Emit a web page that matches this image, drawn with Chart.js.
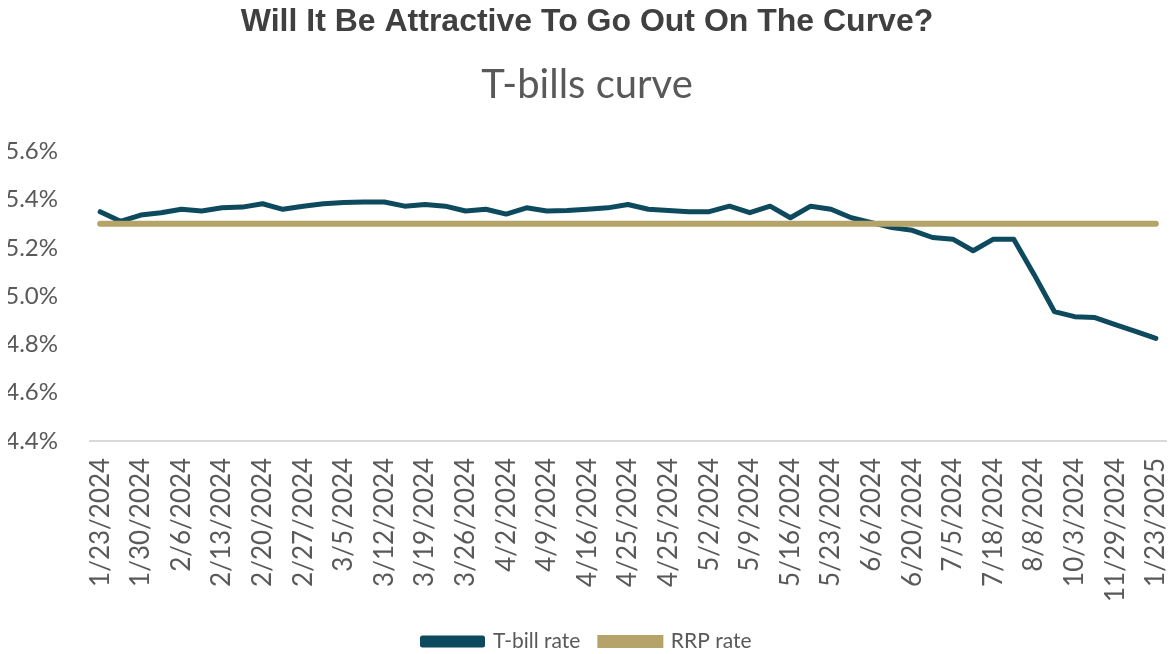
<!DOCTYPE html>
<html>
<head>
<meta charset="utf-8">
<title>T-bills curve</title>
<script src="https://cdn.jsdelivr.net/npm/chart.js@4.4.1/dist/chart.umd.min.js"></script>
<style>
  html, body { margin: 0; padding: 0; background: #ffffff; }
  #wrap { width: 1171px; height: 654px; position: relative; }
</style>
</head>
<body>
<div id="wrap"><canvas id="chartCurve"></canvas></div>
<script>
// tick labels shown on the axis (every other point)
const tickLabels = [
  '1/23/2024', '1/30/2024', '2/6/2024', '2/13/2024', '2/20/2024', '2/27/2024',
  '3/5/2024', '3/12/2024', '3/19/2024', '3/26/2024', '4/2/2024', '4/9/2024',
  '4/16/2024', '4/25/2024', '4/25/2024', '5/2/2024', '5/9/2024', '5/16/2024',
  '5/23/2024', '6/6/2024', '6/20/2024', '7/5/2024', '7/18/2024', '8/8/2024',
  '10/3/2024', '11/29/2024', '1/23/2025'
];

// T-bill rate, %
const tbillRate = [
  5.350, 5.310, 5.336, 5.346, 5.360, 5.353, 5.366, 5.369, 5.383, 5.360,
  5.373, 5.383, 5.388, 5.390, 5.390, 5.373, 5.380, 5.373, 5.353, 5.360,
  5.340, 5.366, 5.353, 5.355, 5.360, 5.366, 5.380, 5.360, 5.355, 5.350,
  5.350, 5.373, 5.346, 5.373, 5.325, 5.373, 5.360, 5.325, 5.305, 5.284,
  5.273, 5.243, 5.236, 5.188, 5.236, 5.236, 5.090, 4.936, 4.915, 4.911,
  4.882, 4.854, 4.825
];

// RRP rate, %
const rrpRate = [
  5.30, 5.30, 5.30, 5.30, 5.30, 5.30, 5.30, 5.30, 5.30, 5.30,
  5.30, 5.30, 5.30, 5.30, 5.30, 5.30, 5.30, 5.30, 5.30, 5.30,
  5.30, 5.30, 5.30, 5.30, 5.30, 5.30, 5.30, 5.30, 5.30, 5.30,
  5.30, 5.30, 5.30, 5.30, 5.30, 5.30, 5.30, 5.30, 5.30, 5.30,
  5.30, 5.30, 5.30, 5.30, 5.30, 5.30, 5.30, 5.30, 5.30, 5.30,
  5.30, 5.30, 5.30
];

const yTicks = { min: 4.4, max: 5.6, step: 0.2 };

// one category per point, only every second one labelled
const categories = [];
for (let i = 0; i < tbillRate.length; i++) {
  categories.push(i % 2 === 0 ? tickLabels[i / 2] : '');
}

const textGrey = '#595959';
const tealColor = '#0d4a5e';
const goldColor = '#b5a36a';

let chartCurve;
function drawCurve(){
  var ctx = document.getElementById('chartCurve').getContext('2d');
  if (chartCurve) {
    chartCurve.destroy();
  }
  chartCurve = new Chart(ctx, {
    type: 'line',
    data: {
      labels: categories,
      datasets: [
        {
          label: 'T-bill rate',
          data: tbillRate,
          borderColor: tealColor,
          backgroundColor: tealColor,
          borderWidth: 5,
          pointRadius: 0,
          tension: 0,
          borderCapStyle: 'round',
          borderJoinStyle: 'round',
          order: 1
        },
        {
          label: 'RRP rate',
          data: rrpRate,
          borderColor: goldColor,
          backgroundColor: goldColor,
          borderWidth: 6,
          pointRadius: 0,
          tension: 0,
          borderCapStyle: 'round',
          order: 0
        }
      ]
    },
    options: {
      responsive: true,
      maintainAspectRatio: false,
      animation: false,
      devicePixelRatio: 1,
      layout: { padding: { left: 8, right: 5, top: 0, bottom: -8 } },
      plugins: {
        title: {
          display: true,
          text: 'Will It Be Attractive To Go Out On The Curve?',
          color: '#404040',
          font: { family: 'Liberation Sans', size: 32, weight: 'bold' },
          padding: { top: 3, bottom: 20 }
        },
        subtitle: {
          display: true,
          text: 'T-bills curve',
          color: textGrey,
          font: { family: 'Lato', size: 40, weight: 'normal' },
          padding: { top: 0, bottom: 42 }
        },
        legend: {
          position: 'bottom',
          labels: {
            color: textGrey,
            font: { family: 'Lato', size: 21 },
            boxWidth: 60,
            boxHeight: 7,
            padding: 20,
            sort: function(a, b){ return a.datasetIndex - b.datasetIndex; }
          }
        },
        tooltip: { enabled: false }
      },
      scales: {
        x: {
          offset: true,
          grid: { display: false },
          border: { display: true, color: '#d9d9d9', width: 2 },
          ticks: {
            autoSkip: false,
            minRotation: 90,
            maxRotation: 90,
            padding: 9,
            color: textGrey,
            font: { family: 'Lato', size: 26 }
          },
          afterFit: function(scale){ scale.paddingLeft = 0; scale.paddingRight = 0; }
        },
        y: {
          min: yTicks.min,
          max: yTicks.max,
          grid: { display: false },
          border: { display: false },
          ticks: {
            stepSize: yTicks.step,
            color: textGrey,
            font: { family: 'Lato', size: 24 },
            padding: 24,
            callback: function(v){ return v.toFixed(1) + '%'; }
          },
          afterFit: function(scale){ scale.width = 82; }
        }
      }
    }
  });
}

window.onload = function(){
  drawCurve();
}
</script>
</body>
</html>
